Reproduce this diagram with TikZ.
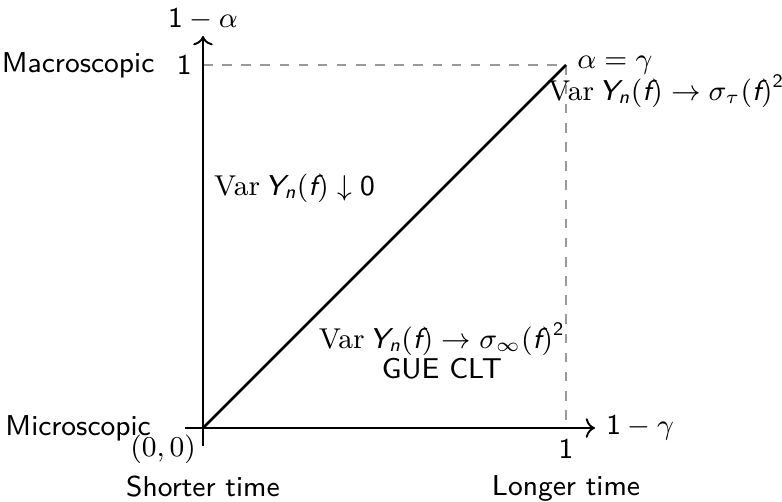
\documentclass[tikz,border=0pt]{standalone}
\usepackage{amsmath,amssymb}
\usepackage{xcolor}
\usetikzlibrary{arrows.meta,positioning}
\definecolor{guidegray}{HTML}{9A9A9A}
\newcommand{\VarOp}{\mathop{\text{\rmfamily Var}}\nolimits}
\newcommand{\sfv}[1]{\text{\sffamily\itshape #1}}
\newcommand{\sfn}[1]{\text{\sffamily #1}}
\newcommand{\Yn}{\sfv{Y}_{\sfv{n}}(\sfv{f})}

\begin{document}
\begin{tikzpicture}[x=4cm,y=4cm,font=\sffamily\fontsize{9}{10.8}\selectfont,
    axisline/.style={->,semithick},
    guideline/.style={dashed,guidegray,thin}]
  \useasboundingbox (-0.559,-0.201) rectangle (1.595,1.179);
  \coordinate (origin) at (0,0);
  \coordinate (xstart) at (-0.05,0);
  \coordinate (xtip) at (1.08,0);
  \coordinate (ystart) at (0,-0.05);
  \coordinate (ytip) at (0,1.08);
  \coordinate (xone) at (1,0);
  \coordinate (yone) at (0,1);
  \coordinate (corner) at (1,1);

  % guides and axes
  \draw[guideline] (yone) -- (corner) -- (xone);
  \draw[axisline] (xstart) -- (xtip);
  \draw[axisline] (ystart) -- (ytip);
  \draw[thick] (origin) -- (corner);

  % axis labels
  \node[right] (xlab) at (xtip) {$\sfn{1}-\gamma$};
  \node[above,inner sep=1.5pt] (ylab) at (ytip) {$\sfn{1}-\alpha$};
  \node[left] (ytick) at (yone) {1};
  \node[below] (xtick) at (xone) {1};
  \node[below left,inner sep=2pt] (zero) at (origin) {$(0,0)$};
  \node[left=0pt of ytick] (macro) {Macroscopic};
  \node[left=0.25cm of xstart] (micro) {Microscopic};
  \node[below=0.4cm of origin] (shorter) {Shorter time};
  \node[below=0.4cm of xone] (longer) {Longer time};

  % regimes
  \node[right] (diag) at (corner) {$\alpha=\gamma$};
  \node (tauvar) at (1.276,0.928) {$\VarOp \Yn\to\sigma_\tau(\sfv{f})^{\sfn{2}}$};
  \node[right] (zerovar) at (0,0.661) {$\VarOp \Yn\downarrow \sfn{0}$};
  \node[align=center] (gue) at (0.658,0.212)
       {$\VarOp \Yn\to\sigma_\infty(\sfv{f})^{\sfn{2}}$\\[-1.2pt]GUE CLT};
\end{tikzpicture}
\end{document}
